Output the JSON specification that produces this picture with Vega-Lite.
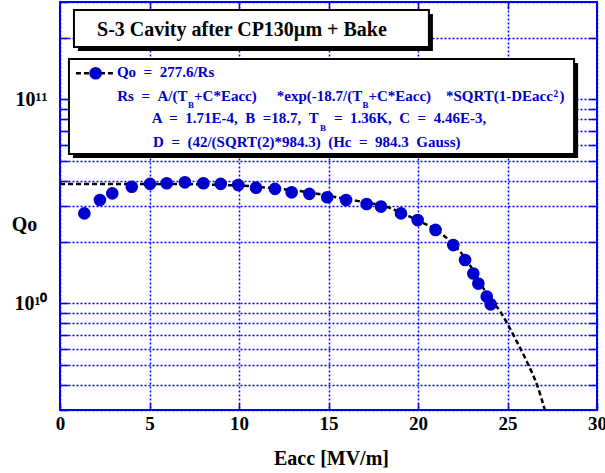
{
  "$schema": "https://vega.github.io/schema/vega-lite/v6.json",
  "width": 537,
  "height": 408,
  "autosize": "none",
  "padding": {"left": 60, "top": 2, "right": 8, "bottom": 63},
  "background": "white",
  "config": {
    "view": {"stroke": "#0000ff", "strokeWidth": 2},
    "font": "Liberation Serif"
  },
  "datasets": {
    "measured": [
      {"Eacc": 1.36, "Qo": 2.76e10},
      {"Eacc": 2.23, "Qo": 3.21e10},
      {"Eacc": 2.92, "Qo": 3.46e10},
      {"Eacc": 4.01, "Qo": 3.73e10},
      {"Eacc": 5.03, "Qo": 3.85e10},
      {"Eacc": 5.96, "Qo": 3.88e10},
      {"Eacc": 6.98, "Qo": 3.92e10},
      {"Eacc": 8.01, "Qo": 3.88e10},
      {"Eacc": 8.98, "Qo": 3.85e10},
      {"Eacc": 9.96, "Qo": 3.80e10},
      {"Eacc": 10.95, "Qo": 3.69e10},
      {"Eacc": 12.01, "Qo": 3.64e10},
      {"Eacc": 12.94, "Qo": 3.50e10},
      {"Eacc": 13.93, "Qo": 3.44e10},
      {"Eacc": 14.93, "Qo": 3.31e10},
      {"Eacc": 15.98, "Qo": 3.21e10},
      {"Eacc": 17.13, "Qo": 3.07e10},
      {"Eacc": 17.93, "Qo": 2.98e10},
      {"Eacc": 19.05, "Qo": 2.76e10},
      {"Eacc": 19.98, "Qo": 2.56e10},
      {"Eacc": 20.98, "Qo": 2.29e10},
      {"Eacc": 21.97, "Qo": 1.93e10},
      {"Eacc": 22.63, "Qo": 1.63e10},
      {"Eacc": 23.09, "Qo": 1.40e10},
      {"Eacc": 23.37, "Qo": 1.25e10},
      {"Eacc": 23.84, "Qo": 1.08e10},
      {"Eacc": 24.06, "Qo": 9.89e9}
    ],
    "fit": [
      {"Eacc": 0, "Qo": 3.85e10},
      {"Eacc": 5, "Qo": 3.85e10},
      {"Eacc": 10, "Qo": 3.78e10},
      {"Eacc": 12, "Qo": 3.66e10},
      {"Eacc": 13.41, "Qo": 3.55e10},
      {"Eacc": 15.92, "Qo": 3.25e10},
      {"Eacc": 18.44, "Qo": 2.93e10},
      {"Eacc": 19.94, "Qo": 2.56e10},
      {"Eacc": 20.95, "Qo": 2.31e10},
      {"Eacc": 21.96, "Qo": 1.95e10},
      {"Eacc": 22.63, "Qo": 1.67e10},
      {"Eacc": 23.35, "Qo": 1.32e10},
      {"Eacc": 24.02, "Qo": 1.05e10},
      {"Eacc": 24.58, "Qo": 9.17e9},
      {"Eacc": 24.97, "Qo": 8.01e9},
      {"Eacc": 25.53, "Qo": 6.47e9},
      {"Eacc": 26.09, "Qo": 5.16e9},
      {"Eacc": 26.65, "Qo": 3.98e9},
      {"Eacc": 27.09, "Qo": 3.0e9}
    ],
    "boxes": [
      {"box": "title", "e1": 0.78, "e2": 20.61, "q1": 2.741e11, "q2": 1.805e11},
      {"box": "key", "e1": 0.50, "e2": 28.72, "q1": 1.576e11, "q2": 5.40e10}
    ],
    "keyLine": [
      {"Eacc": 0.89, "Qo": 1.342e11},
      {"Eacc": 3.07, "Qo": 1.342e11}
    ],
    "keyPoint": [
      {"Eacc": 1.99, "Qo": 1.342e11}
    ],
    "notes": [
      {"role": "title", "e": 2.07, "q": 2.044e11, "text": "S-3 Cavity after CP130µm + Bake"},
      {"role": "main", "e": 3.18, "q": 1.287e11, "text": "Qo \u00a0= \u00a0277.6/Rs"},
      {"role": "main", "e": 3.20, "q": 9.78e10, "text": "Rs \u00a0= \u00a0A/(T"},
      {"role": "sub", "e": 7.15, "q": 9.07e10, "text": "B"},
      {"role": "main", "e": 7.49, "q": 9.78e10, "text": "+C*Eacc)"},
      {"role": "main", "e": 12.11, "q": 9.78e10, "text": "*exp(-18.7/(T"},
      {"role": "sub", "e": 16.90, "q": 9.07e10, "text": "B"},
      {"role": "main", "e": 17.23, "q": 9.78e10, "text": "+C*Eacc)"},
      {"role": "main", "e": 21.56, "q": 9.78e10, "text": "*SQRT(1-DEacc"},
      {"role": "sup", "e": 27.56, "q": 1.027e11, "text": "2"},
      {"role": "main", "e": 27.9, "q": 9.78e10, "text": ")"},
      {"role": "main", "e": 5.12, "q": 7.63e10, "text": "A \u00a0= \u00a01.71E-4, \u00a0B \u00a0=18.7, \u00a0T"},
      {"role": "sub", "e": 14.53, "q": 7.02e10, "text": "B"},
      {"role": "main", "e": 15.31, "q": 7.63e10, "text": "= \u00a01.36K, \u00a0C \u00a0= \u00a04.46E-3,"},
      {"role": "main", "e": 5.20, "q": 5.84e10, "text": "D \u00a0= \u00a0(42/(SQRT(2)*984.3) \u00a0(Hc \u00a0= \u00a0984.3 \u00a0Gauss)"}
    ]
  },
  "layer": [
    {
      "data": {"name": "fit"},
      "mark": {"type": "line", "color": "black", "strokeDash": [5, 3], "strokeWidth": 2.5, "interpolate": "monotone", "clip": true},
      "encoding": {
        "x": {
          "field": "Eacc", "type": "quantitative",
          "scale": {"domain": [0, 30], "nice": false, "zero": false},
          "axis": {
            "values": [0, 5, 10, 15, 20, 25, 30],
            "grid": true, "gridColor": "#0000ff", "gridDash": [2, 2], "gridWidth": 1.5,
            "domain": false,
            "tickColor": "#0000ff", "tickWidth": 1.5, "tickSize": -7,
            "labelPadding": 11, "labelFlush": false,
            "labelFont": "Liberation Serif", "labelFontSize": 19, "labelFontWeight": "bold", "labelColor": "black",
            "labelBaseline": "top",
            "title": "Eacc [MV/m]",
            "titleFont": "Liberation Serif", "titleFontSize": 20, "titleFontWeight": "bold", "titleColor": "black",
            "titleX": 271, "titleY": 54, "titleAlign": "center", "titleBaseline": "alphabetic"
          }
        },
        "y": {
          "field": "Qo", "type": "quantitative",
          "scale": {"type": "log", "domain": [3e9, 3e11], "nice": false},
          "axis": {
            "values": [3e9, 4e9, 5e9, 6e9, 7e9, 8e9, 9e9, 1e10, 2e10, 3e10, 4e10, 5e10, 6e10, 7e10, 8e10, 9e10, 1e11, 2e11, 3e11],
            "labelExpr": "datum.value == 10000000000 ? '10¹⁰' : (datum.value == 100000000000 ? '10¹¹' : '')",
            "labelOverlap": false,
            "grid": true, "gridColor": "#0000ff", "gridDash": [2, 2], "gridWidth": 1.5,
            "domain": false,
            "tickColor": "#0000ff", "tickWidth": 1.5, "tickSize": -8,
            "labelPadding": 21, "labelOffset": 0,
            "labelFont": "Liberation Serif", "labelFontSize": 20, "labelFontWeight": "bold", "labelColor": "black",
            "labelAlign": "right", "labelBaseline": "middle",
            "title": "Qo",
            "titleFont": "Liberation Serif", "titleFontSize": 20, "titleFontWeight": "bold", "titleColor": "black",
            "titleAngle": 0, "titleX": -36, "titleY": 228, "titleAlign": "center", "titleBaseline": "alphabetic"
          }
        }
      }
    },
    {
      "data": {"name": "measured"},
      "mark": {"type": "circle", "size": 160, "color": "#0000cc", "opacity": 1},
      "encoding": {
        "x": {
          "field": "Eacc", "type": "quantitative",
          "scale": {"domain": [0, 30], "nice": false, "zero": false},
          "axis": {"orient": "top", "values": [5, 10, 15, 20, 25], "labels": false, "grid": false, "domain": false,
                   "tickColor": "#0000ff", "tickWidth": 1.5, "tickSize": -7, "title": null}
        },
        "y": {
          "field": "Qo", "type": "quantitative",
          "scale": {"type": "log", "domain": [3e9, 3e11], "nice": false},
          "axis": {"orient": "right", "values": [4e9, 5e9, 6e9, 7e9, 8e9, 9e9, 1e10, 2e10, 3e10, 4e10, 5e10, 6e10, 7e10, 8e10, 9e10, 1e11, 2e11],
                   "labels": false, "grid": false, "domain": false,
                   "tickColor": "#0000ff", "tickWidth": 1.5, "tickSize": -8, "title": null}
        }
      }
    },
    {
      "data": {"name": "boxes"},
      "mark": {"type": "rect", "fill": "black", "xOffset": 4, "x2Offset": 4, "yOffset": 4, "y2Offset": 4},
      "encoding": {
        "x": {"field": "e1", "type": "quantitative", "scale": {"domain": [0, 30], "nice": false, "zero": false}, "axis": null},
        "x2": {"field": "e2"},
        "y": {"field": "q1", "type": "quantitative", "scale": {"type": "log", "domain": [3e9, 3e11], "nice": false}, "axis": null},
        "y2": {"field": "q2"}
      }
    },
    {
      "data": {"name": "boxes"},
      "mark": {"type": "rect", "fill": "white", "stroke": "black", "strokeWidth": 2},
      "encoding": {
        "x": {"field": "e1", "type": "quantitative", "scale": {"domain": [0, 30], "nice": false, "zero": false}, "axis": null},
        "x2": {"field": "e2"},
        "y": {"field": "q1", "type": "quantitative", "scale": {"type": "log", "domain": [3e9, 3e11], "nice": false}, "axis": null},
        "y2": {"field": "q2"}
      }
    },
    {
      "data": {"name": "keyLine"},
      "mark": {"type": "line", "color": "black", "strokeDash": [5, 3], "strokeWidth": 2.5},
      "encoding": {
        "x": {"field": "Eacc", "type": "quantitative", "scale": {"domain": [0, 30], "nice": false, "zero": false}, "axis": null},
        "y": {"field": "Qo", "type": "quantitative", "scale": {"type": "log", "domain": [3e9, 3e11], "nice": false}, "axis": null}
      }
    },
    {
      "data": {"name": "keyPoint"},
      "mark": {"type": "circle", "size": 160, "color": "#0000cc", "opacity": 1},
      "encoding": {
        "x": {"field": "Eacc", "type": "quantitative", "scale": {"domain": [0, 30], "nice": false, "zero": false}, "axis": null},
        "y": {"field": "Qo", "type": "quantitative", "scale": {"type": "log", "domain": [3e9, 3e11], "nice": false}, "axis": null}
      }
    },
    {
      "data": {"name": "notes"},
      "transform": [{"filter": "datum.role == 'title'"}],
      "mark": {"type": "text", "align": "left", "baseline": "alphabetic", "font": "Liberation Serif", "fontSize": 20, "fontWeight": "bold", "color": "black"},
      "encoding": {
        "x": {"field": "e", "type": "quantitative", "scale": {"domain": [0, 30], "nice": false, "zero": false}, "axis": null},
        "y": {"field": "q", "type": "quantitative", "scale": {"type": "log", "domain": [3e9, 3e11], "nice": false}, "axis": null},
        "text": {"field": "text"}
      }
    },
    {
      "data": {"name": "notes"},
      "transform": [{"filter": "datum.role == 'main'"}],
      "mark": {"type": "text", "align": "left", "baseline": "alphabetic", "font": "Liberation Serif", "fontSize": 15, "fontWeight": "bold", "color": "#0000cc"},
      "encoding": {
        "x": {"field": "e", "type": "quantitative", "scale": {"domain": [0, 30], "nice": false, "zero": false}, "axis": null},
        "y": {"field": "q", "type": "quantitative", "scale": {"type": "log", "domain": [3e9, 3e11], "nice": false}, "axis": null},
        "text": {"field": "text"}
      }
    },
    {
      "data": {"name": "notes"},
      "transform": [{"filter": "datum.role == 'sub'"}],
      "mark": {"type": "text", "align": "left", "baseline": "alphabetic", "font": "Liberation Serif", "fontSize": 9, "fontWeight": "bold", "color": "#0000cc"},
      "encoding": {
        "x": {"field": "e", "type": "quantitative", "scale": {"domain": [0, 30], "nice": false, "zero": false}, "axis": null},
        "y": {"field": "q", "type": "quantitative", "scale": {"type": "log", "domain": [3e9, 3e11], "nice": false}, "axis": null},
        "text": {"field": "text"}
      }
    },
    {
      "data": {"name": "notes"},
      "transform": [{"filter": "datum.role == 'sup'"}],
      "mark": {"type": "text", "align": "left", "baseline": "alphabetic", "font": "Liberation Serif", "fontSize": 10, "fontWeight": "bold", "color": "#0000cc"},
      "encoding": {
        "x": {"field": "e", "type": "quantitative", "scale": {"domain": [0, 30], "nice": false, "zero": false}, "axis": null},
        "y": {"field": "q", "type": "quantitative", "scale": {"type": "log", "domain": [3e9, 3e11], "nice": false}, "axis": null},
        "text": {"field": "text"}
      }
    }
  ],
  "resolve": {"axis": {"x": "independent", "y": "independent"}}
}
